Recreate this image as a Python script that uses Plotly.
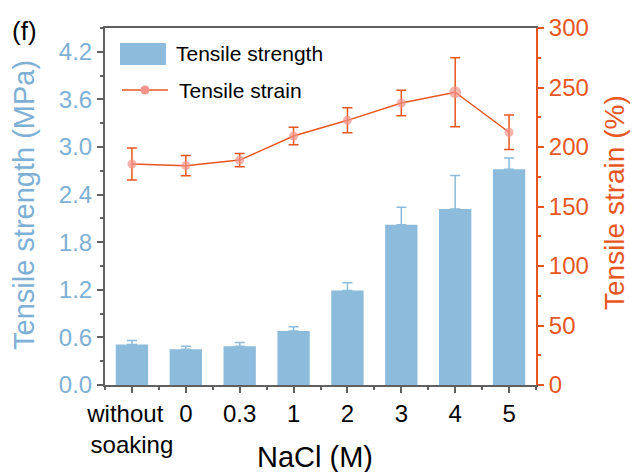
import plotly.graph_objects as go

categories = ["without\u00a0\u00a0<br>soaking", "0", "0.3", "1", "2", "3", "4", "5"]
strength = [0.51, 0.45, 0.49, 0.68, 1.19, 2.02, 2.22, 2.72]
strength_err = [0.05, 0.04, 0.045, 0.055, 0.10, 0.22, 0.42, 0.14]
strain = [185.7, 184.3, 189.0, 209.2, 222.4, 237.0, 246.0, 212.4]
strain_err = [13.5, 8.5, 5.5, 7.3, 10.5, 10.7, 29.0, 14.5]
strain_marker_size = [9, 9, 9, 9, 9, 9, 12, 9]
left_ticks = [0, 0.6, 1.2, 1.8, 2.4, 3.0, 3.6, 4.2]
left_ticktext = ["0.0", "0.6", "1.2", "1.8", "2.4", "3.0", "3.6", "4.2"]
right_ticks = [0, 50, 100, 150, 200, 250, 300]

x = list(range(len(categories)))

BLUE_BAR = "#8cbbdc"
BLUE_TXT = "#7eb0d6"
ORANGE = "#e8561f"
SALMON = "#f4948a"
DARK = "#606060"
FONT = "Liberation Sans, Arial, sans-serif"

W, H = 634, 472
ML, MR, MT, MB = 105, 98, 28, 87
PW, PH = W - ML - MR, H - MT - MB


def px(xp):
    return (xp - ML) / PW


def py(yp):
    return 1 - (yp - MT) / PH


fig = go.Figure()
fig.add_trace(go.Bar(
    x=x, y=strength, width=0.6, name="Tensile strength",
    marker=dict(color=BLUE_BAR, line=dict(width=0)),
    error_y=dict(type="data", array=strength_err, arrayminus=[0] * len(x),
                 symmetric=False, color=BLUE_BAR, thickness=1.5, width=5),
    yaxis="y",
))
fig.add_trace(go.Scatter(
    x=x, y=strain, name="Tensile strain", mode="lines+markers",
    line=dict(color=ORANGE, width=1.5),
    marker=dict(color=SALMON, size=strain_marker_size, line=dict(width=0)),
    error_y=dict(type="data", array=strain_err, color=ORANGE, thickness=1.5, width=5),
    yaxis="y2",
))

# custom legend (decoration)
shapes = [
    dict(type="rect", xref="paper", yref="paper", x0=px(120), x1=px(166), y0=py(65), y1=py(43),
         fillcolor=BLUE_BAR, line=dict(width=0)),
    dict(type="line", xref="paper", yref="paper", x0=px(122), x1=px(168), y0=py(90), y1=py(90),
         line=dict(color=ORANGE, width=1.5)),
    dict(type="circle", xref="paper", yref="paper", x0=px(140.5), x1=px(149.5), y0=py(94.5), y1=py(85.5),
         fillcolor=SALMON, line=dict(width=0)),
]
annotations = [
    dict(text="Tensile strength", x=px(174), y=py(54), xanchor="left", yanchor="middle",
         font=dict(size=21, color="black")),
    dict(text="Tensile strain", x=px(177), y=py(90), xanchor="left", yanchor="middle",
         font=dict(size=21, color="black")),
    dict(text="(f)", x=px(10), y=py(31), xanchor="left", yanchor="middle",
         font=dict(size=26, color="black")),
    dict(text="NaCl (M)", x=px(315), y=py(457), xanchor="center", yanchor="middle",
         font=dict(size=29, color="black")),
    dict(text="Tensile strength (MPa)", x=px(24), y=py(205), xanchor="center", yanchor="middle",
         textangle=-90, font=dict(size=29, color=BLUE_TXT)),
    dict(text="Tensile strain (%)", x=px(614), y=py(203), xanchor="center", yanchor="middle",
         textangle=-90, font=dict(size=28, color=ORANGE)),
]
for a in annotations:
    a.update(xref="paper", yref="paper", showarrow=False)

fig.update_layout(
    width=W, height=H,
    margin=dict(l=ML, r=MR, t=MT, b=MB, autoexpand=False),
    plot_bgcolor="white", paper_bgcolor="white",
    font=dict(family=FONT, size=22, color="black"),
    showlegend=False,
    shapes=shapes, annotations=annotations,
    xaxis=dict(
        range=[-0.5, 7.5], tickmode="array", tickvals=x, ticktext=categories,
        tickangle=0, automargin=False,
        showline=True, linecolor=DARK, linewidth=2, mirror=True,
        ticks="outside", ticklen=6, tickcolor=DARK, tickwidth=1.5,
        minor=dict(dtick=0.5, tick0=-0.5, ticks="outside", ticklen=3, tickcolor=DARK),
        showgrid=False, zeroline=False,
        tickfont=dict(size=24, color="black"),
    ),
    yaxis=dict(
        range=[0, 4.5], tickmode="array", tickvals=left_ticks, ticktext=left_ticktext,
        automargin=False,
        showline=True, linecolor=DARK, linewidth=2,
        ticks="outside", ticklen=6, tickcolor=DARK, tickwidth=1.5,
        minor=dict(dtick=0.3, tick0=0, ticks="outside", ticklen=3, tickcolor=DARK),
        showgrid=False, zeroline=False,
        tickfont=dict(size=24, color=BLUE_TXT),
    ),
    yaxis2=dict(
        range=[0, 300], overlaying="y", side="right",
        tickmode="array", tickvals=right_ticks, automargin=False,
        showline=True, linecolor=ORANGE, linewidth=2,
        ticks="outside", ticklen=6, tickcolor=ORANGE, tickwidth=1.5,
        minor=dict(dtick=25, tick0=0, ticks="outside", ticklen=3, tickcolor=ORANGE),
        showgrid=False, zeroline=False,
        tickfont=dict(size=24, color=ORANGE),
    ),
)

fig.write_html("out.html")
